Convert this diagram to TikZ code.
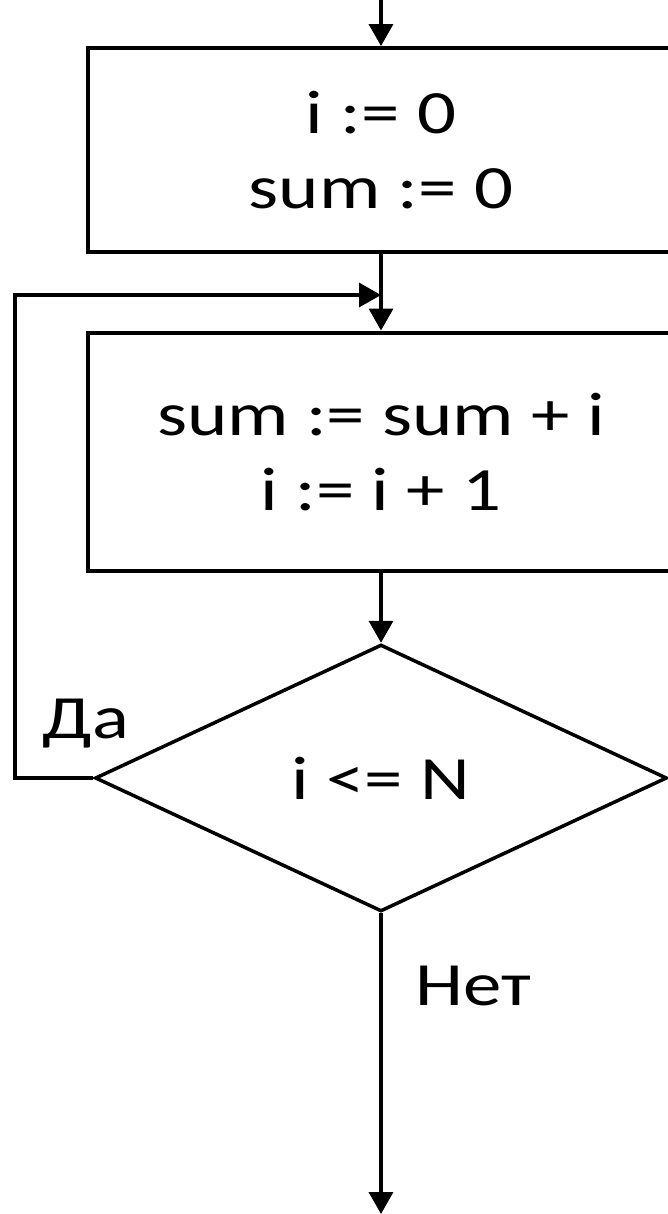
\documentclass[tikz,border=0pt]{standalone}
\usepackage{fontspec}
\setmainfont[FakeStretch=1.25]{Carlito}
\usetikzlibrary{arrows.meta,positioning,shapes.geometric}
\tikzset{
  blk/.style={draw,line width=0.08cm,minimum width=11.72cm,align=center,font=\fontsize{35}{43}\selectfont,inner sep=0pt},
  cond/.style={draw,diamond,line width=0.07cm,minimum width=11.44cm,minimum height=5.34cm,inner sep=0pt,font=\fontsize{35}{43}\selectfont},
  lbl/.style={font=\fontsize{35}{43}\selectfont},
  arr/.style={-{Triangle[length=0.44cm,width=0.48cm]},line width=0.07cm},
  ln/.style={line width=0.07cm},
}
\begin{document}
\begin{tikzpicture}[x=0.02cm,y=-0.02cm]
\useasboundingbox (0,0) rectangle (668,1214);
\clip (0,0) rectangle (668,1214);
\coordinate (top) at (381,0);
\node[blk,minimum height=4.08cm] (init) at (381,150) {i := 0\\sum := 0};
\node[blk,minimum height=4.78cm] (body) at (381,452) {sum := sum + i\\i := i + 1};
\node[cond] (test) at (381,778) {i <= N};
\coordinate (join) at (381,295);
\coordinate (end) at (381,1214);
\draw[arr] (top) -- (init);
\draw[ln] (init) -- (join);
\draw[arr] (join) -- (body);
\draw[arr] (body) -- (test);
\draw[arr] (test.west) -- (15,778) -- (15,295) -- (join);
\draw[arr] (test) -- (end);
\node[lbl] (yes) at (86,724) {Да};
\node[lbl] (no) at (473,986) {Нет};
\end{tikzpicture}
\end{document}
